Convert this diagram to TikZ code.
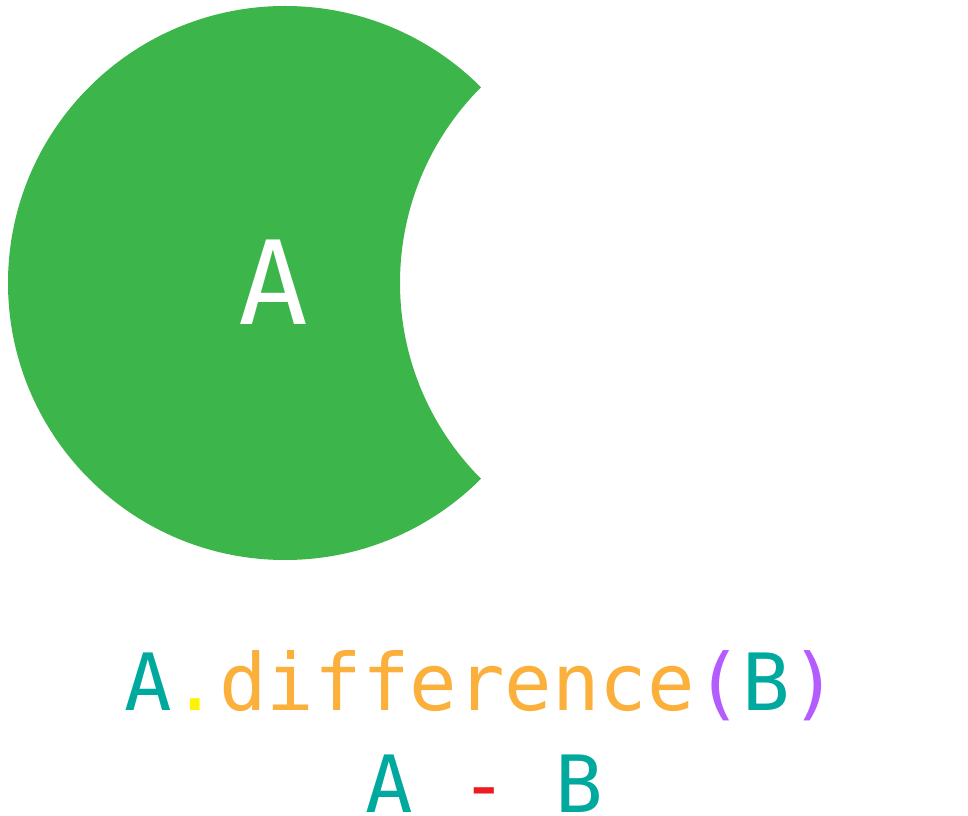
\documentclass[tikz,border=0pt]{standalone}
\usepackage{fontspec}
\setmonofont{DejaVu Sans Mono}
\definecolor{verdeA}{HTML}{3CB54A}
\definecolor{turquesa}{HTML}{00A99D}
\definecolor{naranja}{HTML}{FBB03B}
\definecolor{amarillo}{HTML}{FFF200}
\definecolor{violeta}{HTML}{B55CFF}
\definecolor{rojo}{HTML}{ED1C24}
\tikzset{
  codigo/.style={anchor=base, inner sep=0pt, text depth=0pt, font=\ttfamily\fontsize{79}{79}\selectfont}
}
\begin{document}
\begin{tikzpicture}[x=1pt, y=1pt]
            \useasboundingbox (0,0) rectangle (968,815);

            % Region A menos B
            \begin{scope}
                \clip (285,532) circle (277);
                \fill[verdeA, even odd rule] (0,0) rectangle (968,815) (677,532) circle (277);
            \end{scope}

            % Etiqueta del conjunto
            \node[inner sep=0pt, text=white, font=\ttfamily\fontsize{116}{116}\selectfont] (etiqA) at (273,533) {A};

            % Expresiones
            \node[codigo] (metodo) at (481,105) {\textcolor{turquesa}{A}\textcolor{amarillo}{.}\textcolor{naranja}{difference}\textcolor{violeta}{(}\textcolor{turquesa}{B}\textcolor{violeta}{)}};
            \node[codigo] (resta) at (484,3) {\textcolor{turquesa}{A} \textcolor{rojo}{-} \textcolor{turquesa}{B}};

\end{tikzpicture}
\end{document}
